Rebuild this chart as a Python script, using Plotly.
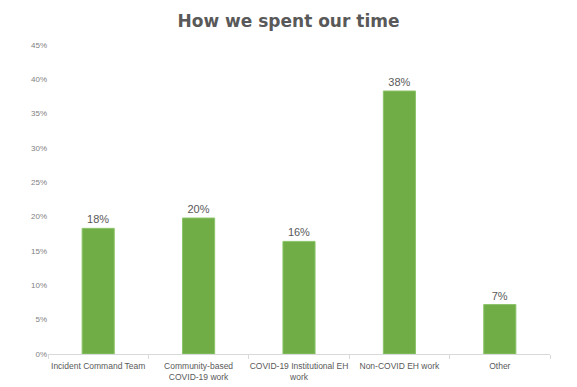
import plotly.graph_objects as go

categories = [
    "Incident Command Team",
    "Community-based<br>COVID-19 work",
    "COVID-19 Institutional EH<br>work",
    "Non-COVID EH work",
    "Other",
]
share = [0.183, 0.198, 0.164, 0.383, 0.072]
y_ticks = [0, 0.05, 0.10, 0.15, 0.20, 0.25, 0.30, 0.35, 0.40, 0.45]

fig = go.Figure(
    go.Bar(
        x=categories,
        y=share,
        marker=dict(color="#70AD47", line=dict(color="#8cc46a", width=1)),
        texttemplate="%{y:.0%}",
        textposition="outside",
        textfont=dict(family="Liberation Sans, Arial", size=11, color="#595959"),
        cliponaxis=False,
    )
)

fig.update_layout(
    width=577,
    height=387,
    margin=dict(l=48, r=27, t=45, b=33),
    paper_bgcolor="white",
    plot_bgcolor="white",
    bargap=0.68,
    showlegend=False,
    title=dict(
        text="<b>How we spent our time</b>",
        x=0.5,
        xanchor="center",
        y=0.945,
        yanchor="middle",
        font=dict(family="DejaVu Sans", size=17, color="#595959"),
    ),
)

fig.update_yaxes(
    range=[0, 0.45],
    tickvals=y_ticks,
    tickformat=".0%",
    showgrid=False,
    zeroline=False,
    showline=False,
    tickfont=dict(family="Liberation Sans, Arial", size=8, color="#7f7f7f"),
    ticks="",
    automargin=False,
)

fig.update_xaxes(
    showline=True,
    linecolor="#d9d9d9",
    linewidth=1,
    ticks="outside",
    tickson="boundaries",
    ticklen=4,
    tickcolor="#d9d9d9",
    tickangle=0,
    ticklabelstandoff=4,
    tickfont=dict(family="Liberation Sans, Arial", size=8.5, color="#595959"),
    automargin=False,
)

fig.write_html("out.html")
